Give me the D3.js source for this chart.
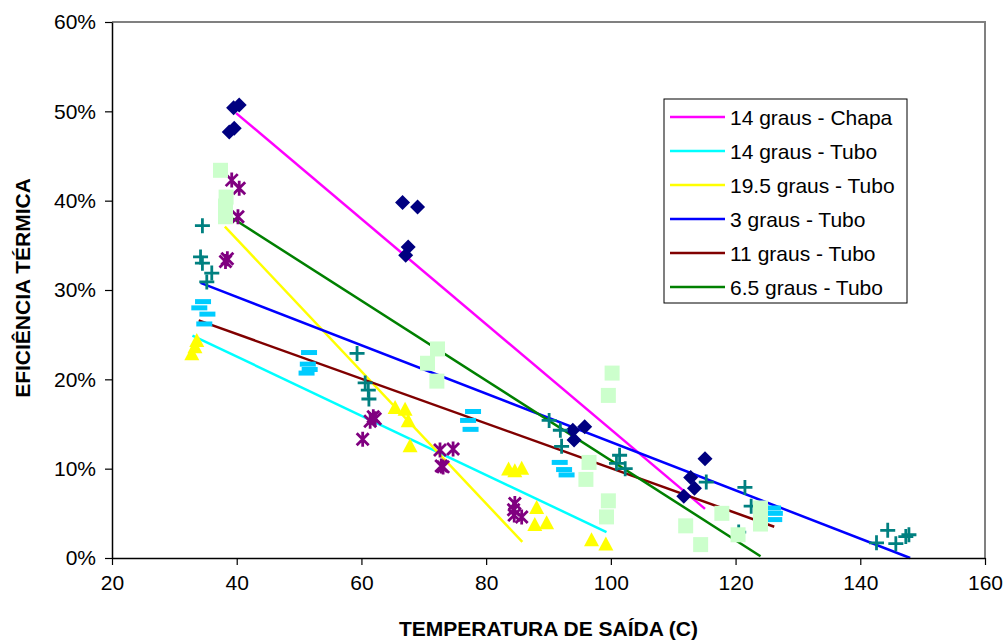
<!DOCTYPE html>
<html>
<head>
<meta charset="utf-8">
<script src="https://cdn.jsdelivr.net/npm/d3@7"></script>
<style>
  body { margin: 0; background: #fff; }
  text { font-family: Arial, "Liberation Sans", sans-serif; }
</style>
</head>
<body>
<div id="chart"></div>
<script>
// axis ticks
var xTicks = [20, 40, 60, 80, 100, 120, 140, 160];
var yTicks = [0, 10, 20, 30, 40, 50, 60];

// legend labels (trend lines)
var names = ["14 graus - Chapa", "14 graus - Tubo", "19.5 graus - Tubo", "3 graus - Tubo", "11 graus - Tubo", "6.5 graus - Tubo"];
var lineColors = ["#ff00ff", "#00ffff", "#ffff00", "#0000ff", "#800000", "#008000"];
var markerColors = ["#000080", "#ffff00", "#800080", "#008080", "#00ccff", "#ccffcc"];
var markerTypes = ["diamond", "triangle", "asterisk", "plus", "dash", "square"];

// measured points [temperatura, eficiencia %]
var chapa = [[38.8,47.7],[39.6,48.1],[39.5,50.4],[40.4,50.7],[66.6,39.8],[69.0,39.3],[67.5,34.8],[67.1,33.9],
  [95.8,14.7],[93.9,14.3],[94.1,13.2],[115.1,11.1],[112.8,9.0],[113.4,7.8],[111.7,6.9]];
var tubo14 = [[33.6,24.3],[33.3,23.6],[32.8,22.8],[65.4,16.8],[67.0,16.6],[67.5,15.3],[67.8,12.5],[83.6,9.9],
  [84.6,9.7],[85.7,10.0],[88.1,5.6],[89.7,3.9],[87.8,3.7],[96.9,2.0],[99.2,1.5]];
var tubo195 = [[39.2,42.3],[40.4,41.4],[40.2,38.2],[38.5,33.5],[38.2,33.2],[61.9,15.8],[61.4,15.3],[60.2,13.3],
  [62.2,15.6],[72.6,12.1],[74.7,12.2],[73.1,10.2],[72.8,10.3],[84.6,6.1],[85.7,4.6],[84.4,5.4],[84.5,4.8]];
var tubo3 = [[34.5,37.2],[34.2,33.7],[34.5,33.0],[36.0,31.9],[35.2,30.9],[59.3,22.9],[60.6,19.6],[61.1,18.8],
  [61.2,17.8],[90.1,15.4],[91.9,14.3],[92.1,12.5],[101.4,11.5],[102.3,10.0],[100.9,10.6],[115.3,8.5],
  [121.5,7.9],[122.5,5.8],[120.5,2.9],[142.6,1.7],[144.4,3.1],[145.7,1.6],[147.3,2.4],[147.8,2.6]];
var tubo11 = [[34.6,28.7],[34.0,28.0],[35.3,27.3],[34.8,26.2],[51.6,23.0],[51.4,21.7],[51.7,21.1],[51.2,20.7],
  [77.9,16.4],[77.1,15.4],[77.5,14.4],[91.8,10.7],[92.5,9.9],[92.9,9.3],[126.0,5.6],[126.3,5.0],[126.2,4.3]];
var tubo65 = [[37.4,43.4],[38.3,40.4],[38.2,39.4],[38.2,38.2],[72.2,23.4],[70.6,21.8],[72.1,19.8],[100.2,20.7],
  [99.6,18.2],[96.5,10.7],[96.0,8.8],[99.6,6.4],[99.3,4.6],[112.0,3.6],[114.4,1.5],[117.8,5.0],[120.4,2.6],
  [124.0,5.6],[124.0,4.7],[124.0,3.8]];

// trend line ends
var trendChapa = [[39.9,49.8],[115.1,5.5]];
var trend14 = [[32.9,24.9],[99.3,2.9]];
var trend195 = [[38.1,37.1],[85.8,1.8]];
var trend3 = [[34.2,30.8],[148.0,0]];
var trend11 = [[33.9,26.6],[126.2,3.5]];
var trend65 = [[39.4,38.0],[124.0,0.2]];

var points = [chapa, tubo14, tubo195, tubo3, tubo11, tubo65];
var trends = [trendChapa, trend14, trend195, trend3, trend11, trend65];

var margin = {top: 22, right: 22, bottom: 82, left: 112};
var W = 1007, H = 640;
var width = W - margin.left - margin.right;
var height = H - margin.top - margin.bottom;

var svg = d3.select("#chart").append("svg")
    .attr("width", W)
    .attr("height", H);
var g = svg.append("g")
    .attr("transform", "translate(" + margin.left + "," + margin.top + ")");

var x = d3.scaleLinear().domain([20, 160]).range([0, width]);
var y = d3.scaleLinear().domain([0, 60]).range([height, 0]);

// plot frame top + right (grey)
g.append("path")
  .attr("d", "M0,0H" + width + "V" + height)
  .attr("fill", "none")
  .attr("stroke", "#808080")
  .attr("stroke-width", 2);

// trend lines
var line = d3.line().x(function(d){ return x(d[0]); }).y(function(d){ return y(d[1]); });
g.selectAll(".trend")
  .data(trends)
  .enter().append("path")
  .attr("class", "trend")
  .attr("d", line)
  .attr("fill", "none")
  .attr("stroke", function(d, i){ return lineColors[i]; })
  .attr("stroke-width", 2.5);

function markerPath(type) {
  if (type == "diamond") return "M0,-7.5L7.5,0L0,7.5L-7.5,0Z";
  if (type == "triangle") return "M0,-8L7.5,6L-7.5,6Z";
  if (type == "square") return "M-7.5,-7.5H7.5V7.5H-7.5Z";
  if (type == "dash") return "M-8,-2.5H8V2.5H-8Z";
  if (type == "plus") return "M-7.5,0H7.5M0,-7.5V7.5";
  if (type == "asterisk") return "M-6,-6L6,6M-6,6L6,-6M0,-7.5V7.5";
}

points.forEach(function(pts, i) {
  var t = markerTypes[i];
  var stroked = (t == "plus" || t == "asterisk");
  g.append("g").selectAll("path")
    .data(pts)
    .enter().append("path")
    .attr("transform", function(d){ return "translate(" + x(d[0]) + "," + y(d[1]) + ")"; })
    .attr("d", markerPath(t))
    .attr("fill", stroked ? "none" : markerColors[i])
    .attr("stroke", stroked ? markerColors[i] : "none")
    .attr("stroke-width", stroked ? 2.8 : 0)
    .attr("stroke-linejoin", "round");
});

// axes
var xAxis = g.append("g")
  .attr("transform", "translate(0," + height + ")")
  .call(d3.axisBottom(x).tickValues(xTicks).tickSize(7).tickSizeOuter(0));
var yAxis = g.append("g")
  .call(d3.axisLeft(y).tickValues(yTicks).tickSize(7).tickSizeOuter(0)
    .tickFormat(function(d){ return d + "%"; }));
[xAxis, yAxis].forEach(function(a) {
  a.select(".domain").attr("stroke", "#000").attr("stroke-width", 1.5);
  a.selectAll(".tick line").attr("stroke", "#000").attr("stroke-width", 1.2);
  a.selectAll(".tick text")
    .style("font-family", "Arial, 'Liberation Sans', sans-serif")
    .style("font-size", "21px")
    .attr("fill", "#000");
});
xAxis.selectAll(".tick text").attr("y", 17).attr("dy", "0.71em");
yAxis.selectAll(".tick text").attr("x", -16);

// axis titles
svg.append("text")
  .attr("x", margin.left + width / 2)
  .attr("y", 636)
  .attr("text-anchor", "middle")
  .style("font-size", "21px")
  .style("font-weight", "bold")
  .text("TEMPERATURA DE SAÍDA (C)");

svg.append("text")
  .attr("transform", "translate(30," + (margin.top + height / 2 - 2) + ") rotate(-90)")
  .attr("text-anchor", "middle")
  .style("font-size", "21px")
  .style("font-weight", "bold")
  .text("EFICIÊNCIA TÉRMICA");

// legend
var legend = svg.append("g").attr("transform", "translate(664,99)");
legend.append("rect")
  .attr("width", 243)
  .attr("height", 204)
  .attr("fill", "#fff")
  .attr("stroke", "#000")
  .attr("stroke-width", 1);
var rows = legend.selectAll(".row")
  .data(names)
  .enter().append("g")
  .attr("transform", function(d, i){ return "translate(0," + (18 + i * 34) + ")"; });
rows.append("line")
  .attr("x1", 6).attr("x2", 61)
  .attr("stroke", function(d, i){ return lineColors[i]; })
  .attr("stroke-width", 2.5);
rows.append("text")
  .attr("x", 66)
  .attr("dy", "0.36em")
  .style("font-size", "21px")
  .text(function(d){ return d; });
</script>
</body>
</html>
